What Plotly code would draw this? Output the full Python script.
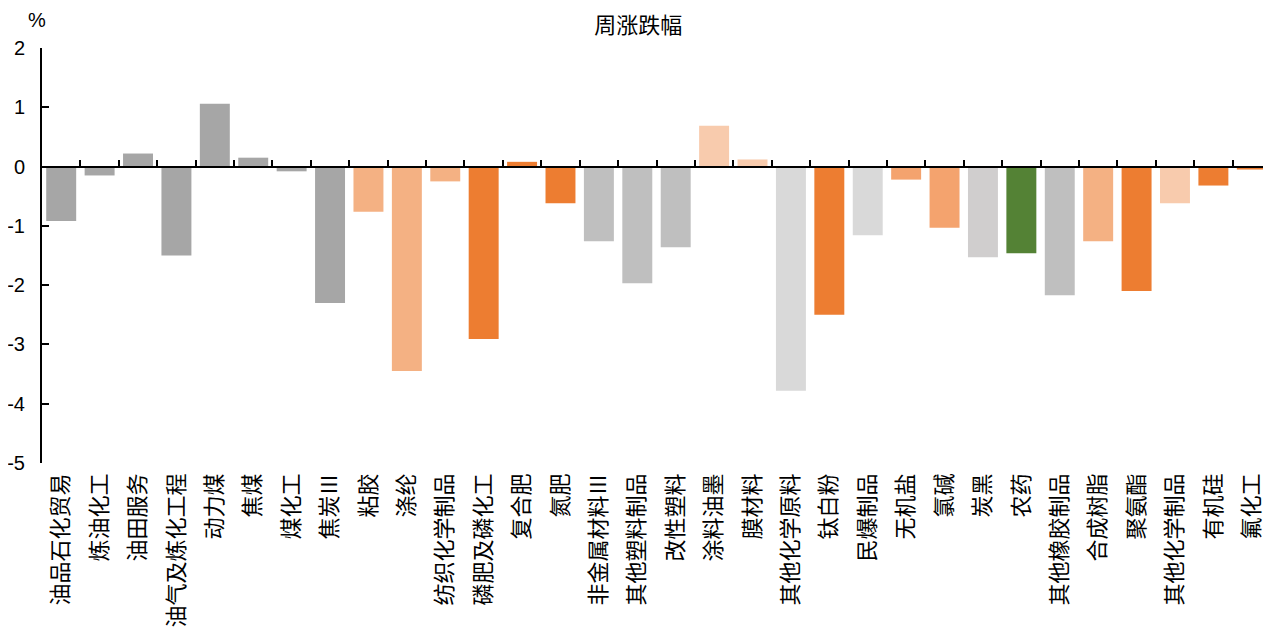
import plotly.graph_objects as go

categories = ["油品石化贸易", "炼油化工", "油田服务", "油气及炼化工程", "动力煤", "焦煤", "煤化工", "焦炭Ⅲ",
              "粘胶", "涤纶", "纺织化学制品", "磷肥及磷化工", "复合肥", "氮肥", "非金属材料Ⅲ", "其他塑料制品",
              "改性塑料", "涂料油墨", "膜材料", "其他化学原料", "钛白粉", "民爆制品", "无机盐", "氯碱",
              "炭黑", "农药", "其他橡胶制品", "合成树脂", "聚氨酯", "其他化学制品", "有机硅", "氟化工"]
values = [-0.92, -0.15, 0.22, -1.50, 1.06, 0.15, -0.08, -2.30,
          -0.76, -3.45, -0.25, -2.91, 0.08, -0.62, -1.26, -1.97,
          -1.36, 0.69, 0.12, -3.78, -2.50, -1.16, -0.22, -1.03,
          -1.53, -1.46, -2.17, -1.26, -2.10, -0.62, -0.32, -0.05]
colors = ["#A6A6A6"] * 8 + ["#F4B183", "#F4B183", "#F4B183", "#ED7D31", "#ED7D31", "#ED7D31",
          "#BFBFBF", "#BFBFBF", "#BFBFBF", "#F8CBAD", "#F8CBAD", "#D9D9D9", "#ED7D31", "#D9D9D9",
          "#F4A36E", "#F4A36E", "#D0CECE", "#548235", "#BFBFBF", "#F4B183", "#ED7D31", "#F8CBAD",
          "#ED7D31", "#ED7D31"]
y_ticks = [-5, -4, -3, -2, -1, 0, 1, 2]
y_tick_labels = ["-5", "-4", "-3", "-2", "-1", "0", "1", "2"]
title_text = "周涨跌幅"
unit_text = "%"

n = len(categories)
boundaries = [i + 0.5 for i in range(n)]

fig = go.Figure()
fig.add_trace(go.Bar(x=list(range(n)), y=values, marker=dict(color=colors, line=dict(width=0)),
                     width=0.78, showlegend=False))

fig.update_layout(
    width=1263, height=622,
    margin=dict(l=34, r=0, t=40, b=167, autoexpand=False),
    paper_bgcolor="white", plot_bgcolor="white",
    font=dict(family="Liberation Sans, Arial, Noto Sans CJK SC", size=20, color="black"),
    title=dict(text=title_text, x=0.499, xanchor="center", xref="container", yref="container",
               y=0.9727, yanchor="middle",
               font=dict(family="Noto Sans CJK SC", size=22, color="black")),
    xaxis=dict(range=[-0.5, n - 0.5], tickmode="array", tickvals=list(range(n)), ticktext=categories,
               tickangle=-90, ticks="", showline=False, showgrid=False, zeroline=False,
               automargin=False,
               tickfont=dict(family="Noto Sans CJK SC", size=22, color="black"),
               ticklabelstandoff=5),
    xaxis2=dict(overlaying="x", anchor="free", position=5 / 7, range=[-0.5, n - 0.5],
                tickmode="array", tickvals=boundaries, ticks="inside", ticklen=6, tickwidth=2,
                tickcolor="black", showticklabels=False, showline=True, linecolor="black",
                linewidth=2, showgrid=False, zeroline=False, automargin=False),
    yaxis=dict(range=[-5, 2], tickmode="array", tickvals=y_ticks, ticktext=y_tick_labels,
               ticks="inside", ticklen=7,
               tickwidth=2, tickcolor="black", showline=True, linecolor="black", linewidth=2,
               showgrid=False, zeroline=False, ticklabelstandoff=11, automargin=False,
               tickfont=dict(family="Liberation Sans, Arial", size=20, color="black")),
    bargap=0.22,
    annotations=[dict(text=unit_text, xref="paper", yref="paper", x=-0.004, y=1.068,
                      xanchor="center", yanchor="middle", showarrow=False,
                      font=dict(family="Liberation Sans, Arial", size=20, color="black"))],
)
# attach an invisible trace so the zero-line axis is drawn
fig.add_trace(go.Scatter(x=[-0.5, n - 0.5], y=[0, 0], xaxis="x2", mode="lines",
                         line=dict(width=0), hoverinfo="skip", showlegend=False))

fig.write_html("out.html")
